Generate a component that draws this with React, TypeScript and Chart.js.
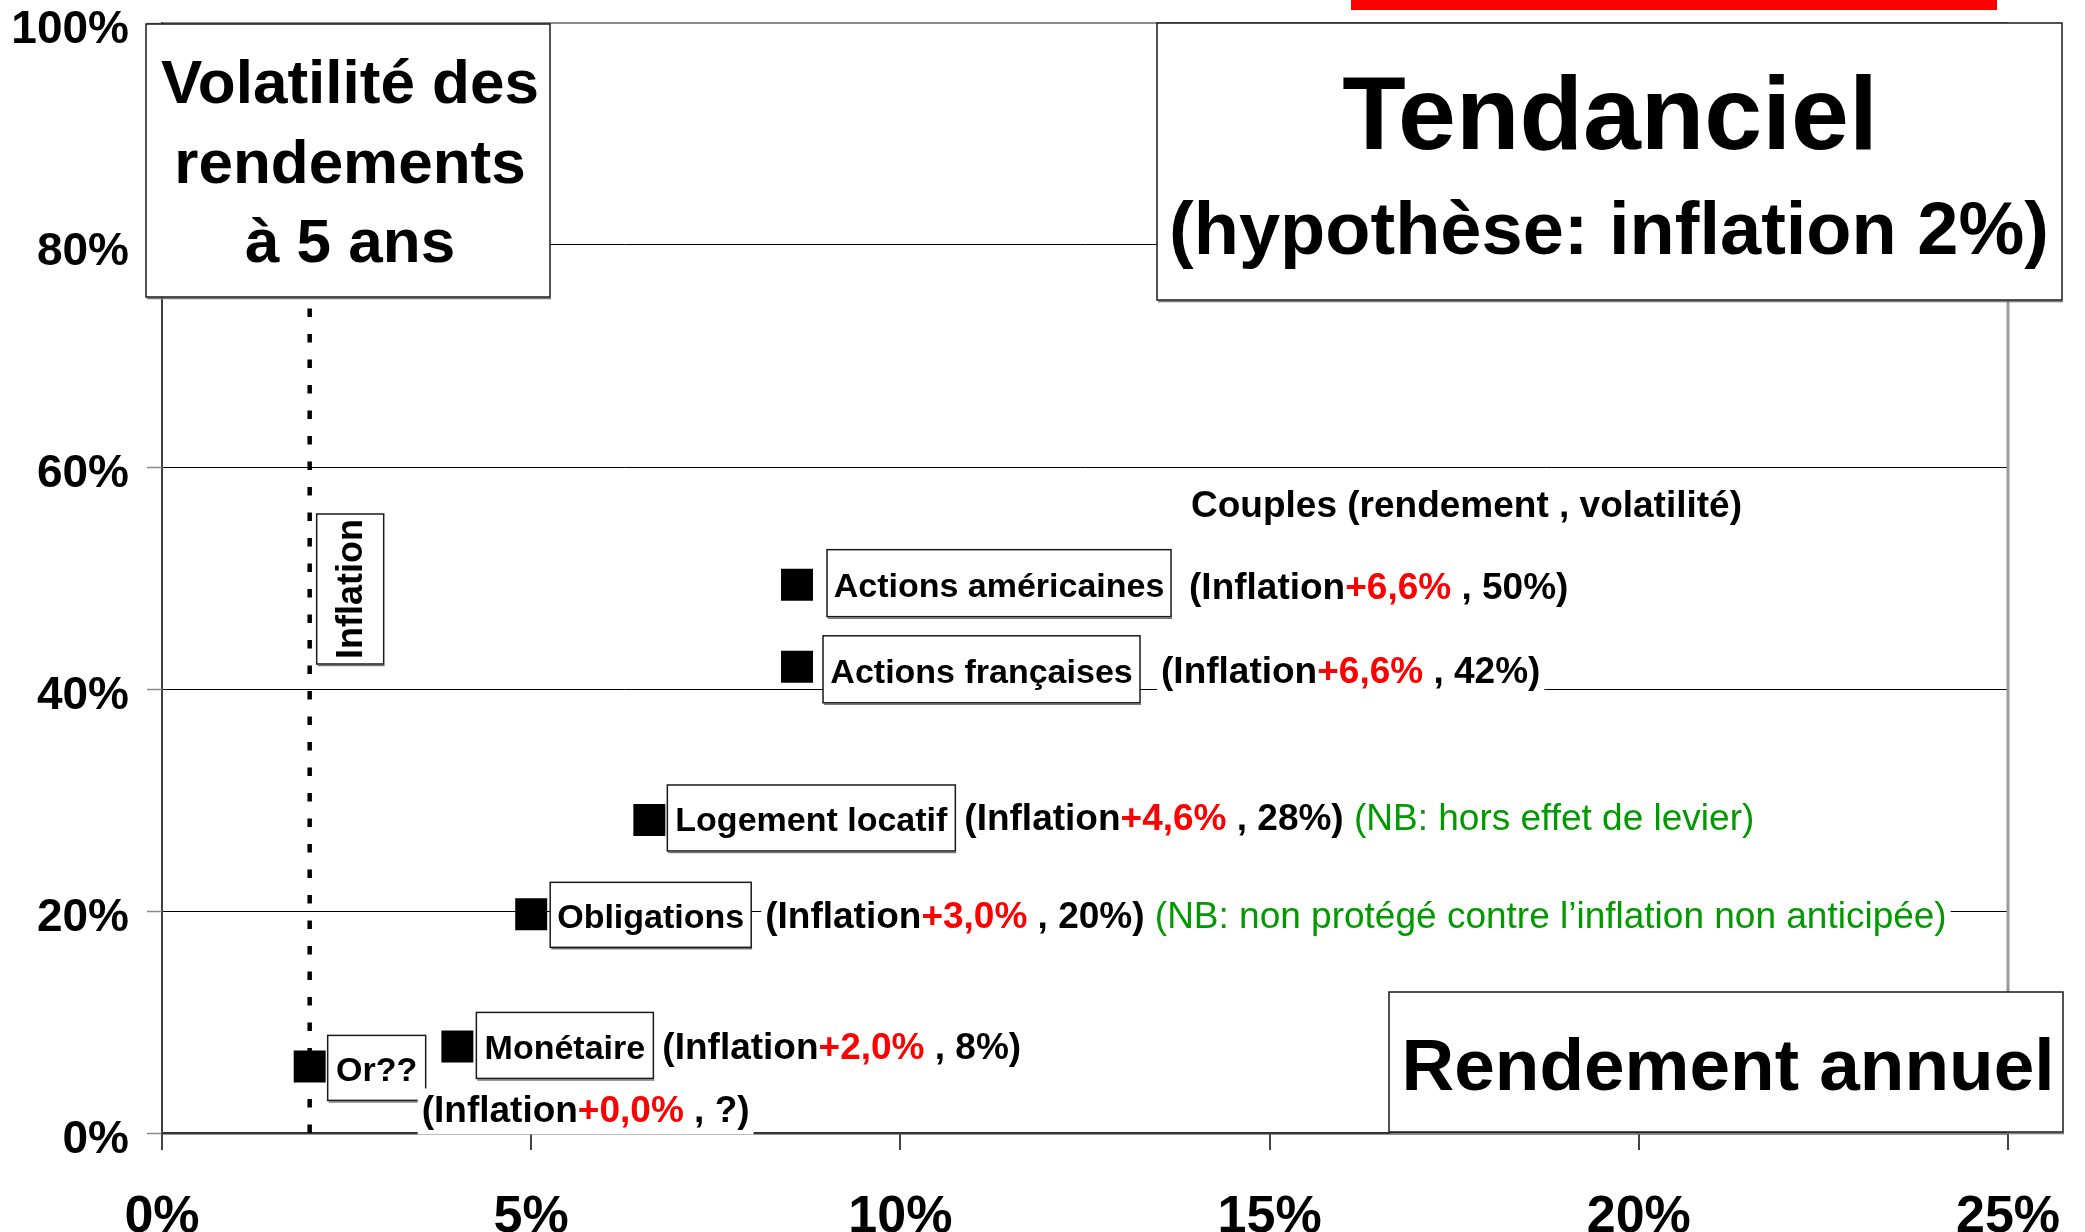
import { useEffect, useRef } from 'react';
import { Chart, registerables } from 'chart.js';

Chart.register(...registerables);

const FONT = '"Liberation Sans", Arial, Helvetica, sans-serif';

// ---- data ----
const inflation = 2;
const assetNames = ['Actions américaines', 'Actions françaises', 'Logement locatif', 'Obligations', 'Monétaire', 'Or??'];
const rendements = [8.6, 8.6, 6.6, 5.0, 4.0, 2.0];
const volatilites = [49.4, 42, 28.2, 19.7, 7.8, 6];
const primes = ['+6,6%', '+6,6%', '+4,6%', '+3,0%', '+2,0%', '+0,0%'];
const volLabels = ['50%', '42%', '28%', '20%', '8%', '?'];
const notes = ['', '', '(NB: hors effet de levier)', '(NB: non protégé contre l\u2019inflation non anticipée)', '', ''];
const xTicks = [0, 5, 10, 15, 20, 25];
const xTickLabels = ['0%', '5%', '10%', '15%', '20%', '25%'];
const yTicks = [0, 20, 40, 60, 80, 100];
const yTickLabels = ['0%', '20%', '40%', '60%', '80%', '100%'];
const titleLines = ['Volatilité des', 'rendements', 'à 5 ans'];
const mainTitle = 'Tendanciel';
const subTitle = '(hypothèse: inflation 2%)';
const xTitle = 'Rendement annuel';
const legendNote = 'Couples (rendement , volatilité)';
const inflationLabel = 'Inflation';

// ---- layout of annotation boxes (relative to each marker, px) ----
const boxLayout = [
  { dx: 30, dy: -35, w: 344, h: 67, ax: 392, ay: 4 },
  { dx: 26, dy: -31, w: 317, h: 67, ax: 364, ay: 6 },
  { dx: 18, dy: -35, w: 288, h: 66, ax: 315, ay: 0 },
  { dx: 19, dy: -32, w: 201, h: 65, ax: 234, ay: 3 },
  { dx: 19, dy: -34, w: 177, h: 66, ax: 205, ay: 2 },
  { dx: 18, dy: -31, w: 98, h: 65, ax: 112, ay: 45 },
];

type Seg = { t: string; color: string; bold: boolean };

function box(ctx: CanvasRenderingContext2D, x: number, y: number, w: number, h: number) {
  ctx.save();
  ctx.fillStyle = '#fff';
  ctx.fillRect(x, y, w, h);
  ctx.strokeStyle = '#7a7a7a';
  ctx.lineWidth = 1.5;
  ctx.beginPath();
  ctx.moveTo(x + 1, y + h + 1.5);
  ctx.lineTo(x + w + 1, y + h + 1.5);
  ctx.stroke();
  ctx.strokeStyle = '#1a1a1a';
  ctx.lineWidth = 1.5;
  ctx.strokeRect(x, y, w, h);
  ctx.restore();
}

function richText(ctx: CanvasRenderingContext2D, segs: Seg[], x: number, y: number, size: number) {
  ctx.save();
  ctx.textBaseline = 'middle';
  ctx.textAlign = 'left';
  let total = 0;
  const widths = segs.map((s) => {
    ctx.font = `${s.bold ? 'bold ' : ''}${size}px ${FONT}`;
    const w = ctx.measureText(s.t).width;
    total += w;
    return w;
  });
  ctx.fillStyle = '#fff';
  ctx.fillRect(x - 4, y - size * 0.62, total + 8, size * 1.24);
  let cx = x;
  segs.forEach((s, i) => {
    ctx.font = `${s.bold ? 'bold ' : ''}${size}px ${FONT}`;
    ctx.fillStyle = s.color;
    ctx.fillText(s.t, cx, y);
    cx += widths[i];
  });
  ctx.restore();
}

function centerText(ctx: CanvasRenderingContext2D, t: string, x: number, y: number, size: number, baseline: CanvasTextBaseline = 'alphabetic') {
  ctx.save();
  ctx.font = `bold ${size}px ${FONT}`;
  ctx.fillStyle = '#000';
  ctx.textAlign = 'center';
  ctx.textBaseline = baseline;
  ctx.fillText(t, x, y);
  ctx.restore();
}

const overlay = {
  id: 'overlay',
  beforeDatasetsDraw(chart: any) {
    const ctx: CanvasRenderingContext2D = chart.ctx;
    const area = chart.chartArea;
    const xs = chart.scales.x;
    const ys = chart.scales.y;
    ctx.save();
    // y tick marks
    ctx.strokeStyle = '#8a8a8a';
    ctx.lineWidth = 1.5;
    yTicks.forEach((v) => {
      const y = Math.round(ys.getPixelForValue(v)) + 0.5;
      ctx.beginPath();
      ctx.moveTo(area.left - 15, y);
      ctx.lineTo(area.left, y);
      ctx.stroke();
    });
    // x tick marks
    ctx.strokeStyle = '#444';
    ctx.lineWidth = 2;
    xTicks.forEach((v) => {
      const x = Math.round(xs.getPixelForValue(v));
      ctx.beginPath();
      ctx.moveTo(x, area.bottom);
      ctx.lineTo(x, area.bottom + 17);
      ctx.stroke();
    });
    // right border of plot
    ctx.strokeStyle = '#9a9a9a';
    ctx.lineWidth = 3;
    ctx.beginPath();
    ctx.moveTo(area.right, area.top);
    ctx.lineTo(area.right, area.bottom);
    ctx.stroke();
    ctx.restore();
  },
  afterDraw(chart: any) {
    const ctx: CanvasRenderingContext2D = chart.ctx;
    const xs = chart.scales.x;
    const ys = chart.scales.y;

    // red bar at top
    ctx.save();
    ctx.fillStyle = '#ff0000';
    ctx.fillRect(1351, 0, 646, 10);
    ctx.restore();

    // note above the list
    ctx.save();
    ctx.font = `bold 37px ${FONT}`;
    ctx.fillStyle = '#000';
    ctx.textBaseline = 'middle';
    ctx.fillText(legendNote, 1191, 507);
    ctx.restore();

    // asset boxes & annotations
    assetNames.forEach((name, i) => {
      const px = xs.getPixelForValue(rendements[i]);
      const py = ys.getPixelForValue(volatilites[i]);
      const L = boxLayout[i];
      const bx = px + L.dx;
      const by = py + L.dy;
      box(ctx, bx, by, L.w, L.h);
      centerText(ctx, name, bx + L.w / 2, by + L.h / 2 + 4, 34, 'middle');
      const segs: Seg[] = [
        { t: '(Inflation', color: '#000', bold: true },
        { t: primes[i], color: '#ff0000', bold: true },
        { t: ' , ' + volLabels[i] + ')', color: '#000', bold: true },
      ];
      if (notes[i]) segs.push({ t: ' ' + notes[i], color: '#009a00', bold: false });
      richText(ctx, segs, px + L.ax, py + L.ay, 37);
    });

    // vertical "Inflation" box on the inflation line
    const ix = xs.getPixelForValue(inflation);
    box(ctx, ix + 7, 514, 67, 150);
    ctx.save();
    ctx.translate(ix + 52, 589);
    ctx.rotate(-Math.PI / 2);
    ctx.font = `bold 36px ${FONT}`;
    ctx.fillStyle = '#000';
    ctx.textAlign = 'center';
    ctx.textBaseline = 'alphabetic';
    ctx.fillText(inflationLabel, 0, 0);
    ctx.restore();

    // y title box
    box(ctx, 146, 24, 404, 273);
    titleLines.forEach((t, i) => centerText(ctx, t, 350, 103 + i * 79.5, 62));

    // main title box
    box(ctx, 1157, 23, 905, 277);
    centerText(ctx, mainTitle, 1610, 149, 104);
    centerText(ctx, subTitle, 1609, 254, 74);

    // x title box
    box(ctx, 1389, 992, 674, 140);
    centerText(ctx, xTitle, 1728, 1090, 73);
  },
};

export default function App() {
  const ref = useRef<HTMLCanvasElement>(null);
  useEffect(() => {
    const canvas = ref.current;
    if (!canvas) return;
    const chart = new Chart(canvas, {
      type: 'scatter',
      data: {
        datasets: [
          {
            label: 'Actifs',
            data: rendements.map((r, i) => ({ x: r, y: volatilites[i] })),
            pointStyle: 'rect',
            pointRadius: 22.6,
            pointHoverRadius: 22.6,
            backgroundColor: '#000',
            borderColor: '#000',
            borderWidth: 0,
            order: 0,
          },
          {
            label: 'Inflation',
            data: [
              { x: inflation, y: 0 },
              { x: inflation, y: 100 },
            ],
            showLine: true,
            borderColor: '#000',
            borderWidth: 4.5,
            borderDash: [8.5, 17],
            borderCapStyle: 'butt',
            pointRadius: 0,
            order: 1,
          },
        ],
      } as any,
      options: {
        responsive: false,
        animation: false,
        devicePixelRatio: 1,
        layout: { padding: { top: 23, right: 77, bottom: 0, left: 0 } },
        plugins: { legend: { display: false }, tooltip: { enabled: false } },
        scales: {
          x: {
            type: 'linear',
            min: 0,
            max: 25,
            afterFit: (s: any) => {
              s.height = 99;
            },
            afterBuildTicks: (s: any) => {
              s.ticks = xTicks.map((v) => ({ value: v }));
            },
            ticks: {
              autoSkip: false,
              maxRotation: 0,
              callback: (v: any) => xTickLabels[xTicks.indexOf(Number(v))],
              font: { family: FONT, size: 52, weight: 'bold', lineHeight: 1.2 },
              color: '#000',
              padding: 0,
            },
            grid: { drawOnChartArea: false, drawTicks: true, tickLength: 53, tickColor: 'rgba(0,0,0,0)', color: 'rgba(0,0,0,0)' },
            border: { display: true, color: '#333', width: 2.5 },
          },
          y: {
            type: 'linear',
            min: 0,
            max: 100,
            afterFit: (s: any) => {
              s.width = 162;
            },
            afterBuildTicks: (s: any) => {
              s.ticks = yTicks.map((v) => ({ value: v }));
            },
            ticks: {
              callback: (v: any) => yTickLabels[yTicks.indexOf(Number(v))],
              font: { family: FONT, size: 46, weight: 'bold', lineHeight: 1 },
              color: '#000',
              padding: 0,
              labelOffset: 7,
            },
            grid: {
              color: (c: any) => (c.tick && c.tick.value === 100 ? '#8a8a8a' : '#000'),
              lineWidth: (c: any) => (c.tick && c.tick.value === 100 ? 2 : 1),
              tickLength: 33,
              tickColor: 'rgba(0,0,0,0)',
            },
            border: { display: true, color: '#404040', width: 2 },
          },
        },
      } as any,
      plugins: [overlay],
    });
    return () => chart.destroy();
  }, []);
  return (
    <div style={{ position: 'absolute', left: 0, top: 0, width: 2085, height: 1232, background: '#fff' }}>
      <canvas ref={ref} width={2085} height={1232} style={{ display: 'block', width: 2085, height: 1232 }} />
    </div>
  );
}
